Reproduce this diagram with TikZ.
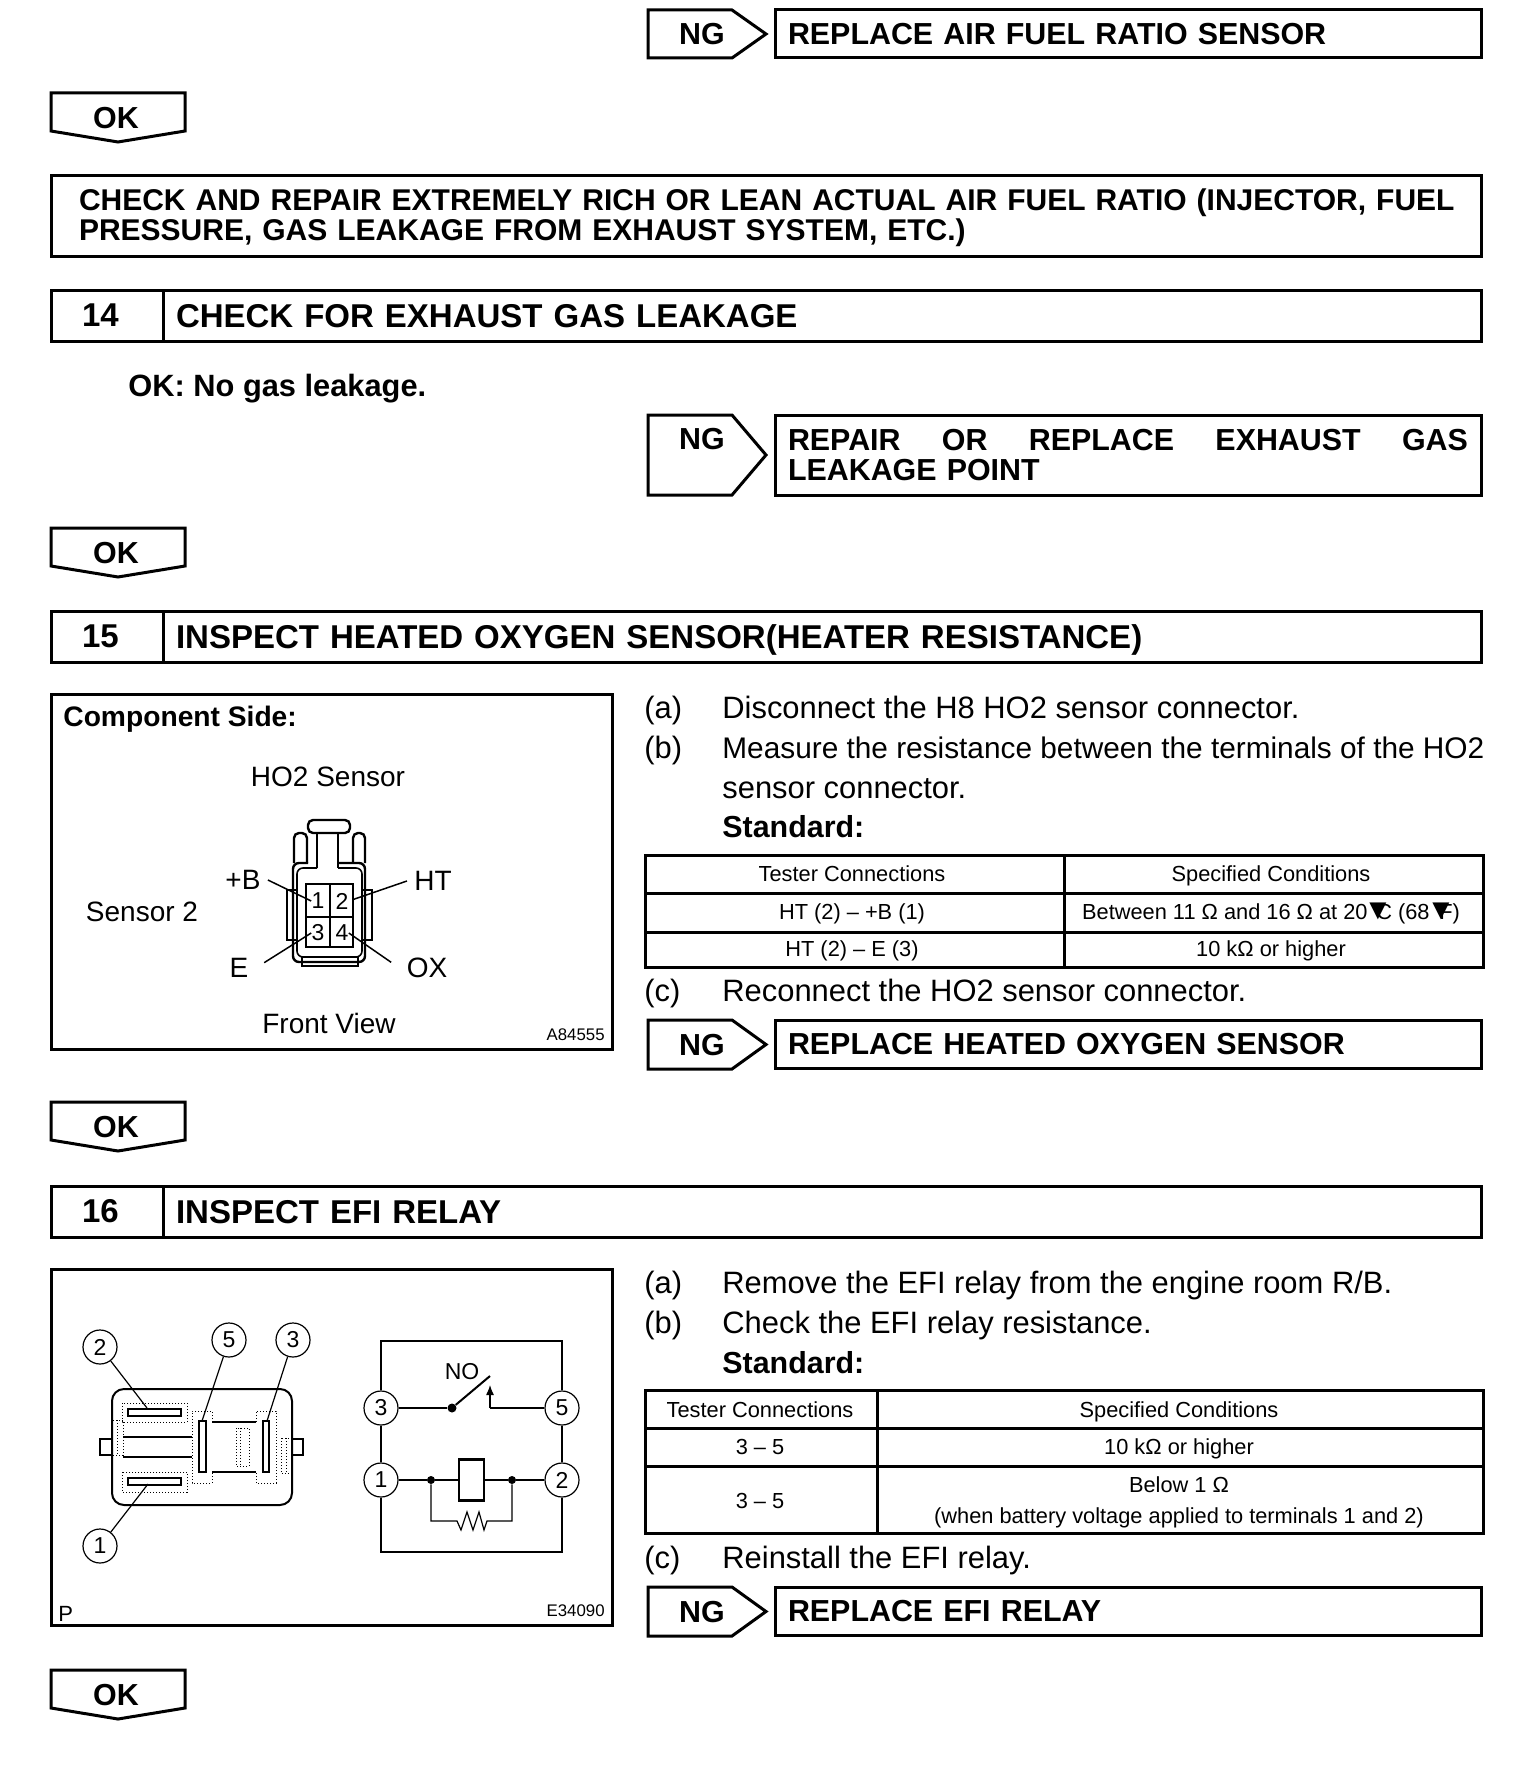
\documentclass[tikz,border=0pt]{standalone}
\usepackage{fontspec}
\setmainfont{Liberation Sans}
\usetikzlibrary{arrows.meta, positioning}

\begin{document}
\begin{tikzpicture}[
  x=0.5pt, y=-0.5pt,
  headfont/.style={font=\fontsize{15.2}{15.2}\selectfont\bfseries},
  titlefont/.style={font=\fontsize{16.5}{17}\selectfont\bfseries},
  bodyfont/.style={font=\fontsize{15.45}{16}\selectfont},
  cellfont/.style={font=\fontsize{10.9}{12}\selectfont},
  numbox/.style={draw, line width=1.5pt, outer sep=0pt, anchor=north west, minimum width=56pt, minimum height=25.5pt, inner xsep=15.5pt, text width=25pt, align=left, titlefont},
  titlebox/.style={draw, line width=1.5pt, outer sep=0pt, minimum width=659pt, minimum height=25.5pt, inner xsep=6.5pt, text width=646pt, align=left, text height=11.8pt, text depth=0pt, titlefont},
  fixbox/.style={draw, line width=1.5pt, outer sep=0pt, anchor=north west, minimum width=353pt, minimum height=24pt, inner xsep=6.5pt, text width=340pt, align=left, headfont},
  flag/.style={draw, line width=1.5pt, line join=miter},
  tag/.style={inner sep=0pt, headfont},
  step text/.style={anchor=base west, inner sep=0pt, bodyfont},
  panel/.style={draw, line width=1.5pt},
  cell/.style={anchor=base, inner sep=0pt, cellfont},
  rule/.style={line width=1.5pt},
  lbl/.style={inner sep=3.5pt, font=\fontsize{14}{15}\selectfont},
  pinno/.style={inner sep=0pt, font=\fontsize{11.5}{12}\selectfont},
  code/.style={anchor=base east, inner sep=0pt, font=\fontsize{8.4}{9}\selectfont},
  lead/.style={line width=0.75pt},
  circ/.style={draw, circle, fill=white, line width=0.6pt, minimum size=17pt, inner sep=0pt, font=\fontsize{11.5}{12}\selectfont},
  fine/.style={line width=0.5pt, densely dotted},
  thin wire/.style={line width=0.6pt},
  dot/.style={circle, fill=black, minimum size=4.5pt, inner sep=0pt}
  ]
\useasboundingbox (0,0) rectangle (1536,1782);

% NG flags
\foreach \y/\h/\b in {10/48/35, 415/80/34, 1020/49/35, 1587/49/35} {
  \draw[flag] (648,\y) -- (732,\y) -- (766,\y+\h/2) -- (732,\y+\h) -- (648,\y+\h) -- cycle;
  \node[tag, anchor=base] (ng\y) at (702,\y+\b) {NG};
}

% OK tags
\foreach \y in {93, 528, 1102, 1670} {
  \draw[flag] (51,\y) -- (185,\y) -- (185,\y+38) -- (118,\y+49) -- (51,\y+38) -- cycle;
  \node[tag, anchor=base] (ok\y) at (116,\y+35) {OK};
}

% Repair boxes
\node[fixbox] (fixa) at (775,10) {REPLACE AIR FUEL RATIO SENSOR};
\node[fixbox, minimum height=40pt] (fixb) at (775,415) {\hbox to 340pt{REPAIR\hfil OR\hfil REPLACE\hfil EXHAUST\hfil GAS}\\LEAKAGE POINT};
\node[fixbox] (fixc) at (775,1020) {REPLACE HEATED OXYGEN SENSOR};
\node[fixbox] (fixd) at (775,1587) {REPLACE EFI RELAY};
\node[fixbox, minimum width=715pt, minimum height=40.5pt, text width=687pt, inner xsep=14pt, text height=13pt, font=\fontsize{15}{15}\selectfont\bfseries] (rich) at (51,175) {\hbox{CHECK AND REPAIR EXTREMELY RICH OR LEAN ACTUAL AIR FUEL RATIO (INJECTOR, FUEL}\\\hbox{PRESSURE, GAS LEAKAGE FROM EXHAUST SYSTEM, ETC.)}};

% Step headers
\node[numbox] (numa) at (51,290) {14};
\node[titlebox, right=0pt of numa] (heada) {CHECK FOR EXHAUST GAS LEAKAGE};
\node[numbox] (numb) at (51,611) {15};
\node[titlebox, right=0pt of numb] (headb) {INSPECT HEATED OXYGEN SENSOR(HEATER RESISTANCE)};
\node[numbox] (numc) at (51,1186) {16};
\node[titlebox, right=0pt of numc] (headc) {INSPECT EFI RELAY};

\node[anchor=base west, inner sep=0pt, font=\fontsize{15.4}{16}\selectfont\bfseries] (spec) at (128,396) {OK: No gas leakage.};

% Steps of 15
\node[step text] (sa) at (644,718) {(a)};
\node[step text] (ta) at (722,718) {Disconnect the H8 HO2 sensor connector.};
\node[step text] (sb) at (644,758) {(b)};
\node[step text, font=\fontsize{14.9}{16}\selectfont] (tb) at (722,758) {Measure the resistance between the terminals of the HO2};
\node[step text] (tbb) at (722,798) {sensor connector.};
\node[step text, font=\fontsize{15.2}{16}\selectfont\bfseries] (std) at (722,837) {Standard:};
\node[step text] (sc) at (644,1001) {(c)};
\node[step text] (tc) at (722,1001) {Reconnect the HO2 sensor connector.};

% Table of 15
\draw[rule] (645,855) rectangle (1483,967);
\draw[rule] (645,893) -- (1483,893);
\draw[rule] (645,932) -- (1483,932);
\draw[rule] (1064,855) -- (1064,967);
\node[cell] (ca) at (852,881) {Tester Connections};
\node[cell] (cb) at (1271,881) {Specified Conditions};
\node[cell] (cc) at (852,919) {HT (2) – +B (1)};
\node[cell] (cd) at (1271,919) {Between 11 Ω and 16 Ω at 20\kern-2pt{\fontsize{14.5}{14.5}\selectfont ▼}\kern-8pt C (68\kern-1.5pt{\fontsize{14.5}{14.5}\selectfont ▼}\kern-8pt F)};
\node[cell] (ce) at (852,956) {HT (2) – E (3)};
\node[cell] (cf) at (1271,956) {10 kΩ or higher};

% Steps of 16
\node[step text] (ra) at (644,1293) {(a)};
\node[step text] (ua) at (722,1293) {Remove the EFI relay from the engine room R/B.};
\node[step text] (rb) at (644,1333) {(b)};
\node[step text] (ub) at (722,1333) {Check the EFI relay resistance.};
\node[step text, font=\fontsize{15.2}{16}\selectfont\bfseries] (stdb) at (722,1373) {Standard:};
\node[step text] (rc) at (644,1568) {(c)};
\node[step text] (uc) at (722,1568) {Reinstall the EFI relay.};

% Table of 16
\draw[rule] (645,1390) rectangle (1483,1533);
\draw[rule] (645,1428) -- (1483,1428);
\draw[rule] (645,1466) -- (1483,1466);
\draw[rule] (877,1390) -- (877,1533);
\node[cell] (da) at (760,1417) {Tester Connections};
\node[cell] (db) at (1179,1417) {Specified Conditions};
\node[cell] (dc) at (760,1454) {3 – 5};
\node[cell] (dd) at (1179,1454) {10 kΩ or higher};
\node[cell] (de) at (760,1508) {3 – 5};
\node[cell] (df) at (1179,1492) {Below 1 Ω};
\node[cell] (dg) at (1179,1523) {(when battery voltage applied to terminals 1 and 2)};

% Connector panel
\draw[panel] (51,694) rectangle (612,1049);
\node[anchor=base west, inner sep=0pt, font=\fontsize{14.1}{15}\selectfont\bfseries] (comp) at (63,726) {Component Side:};
\node[lbl] (ho) at (328,777) {HO2 Sensor};
\node[lbl] (sens) at (142,912) {Sensor 2};
\node[lbl] (front) at (329,1023) {Front View};
\node[lbl] (lbB) at (243,880) {+B};
\node[lbl] (lbHT) at (433,881) {HT};
\node[lbl] (lbE) at (239,968) {E};
\node[lbl] (lbOX) at (427,968) {OX};
\node[code] (aa) at (605,1040) {A84555};

\draw[line width=1.2pt, rounded corners=2.5pt] (308,833) rectangle (350,820);
\draw[line width=1.2pt, rounded corners=2.5pt] (307,863) -- (307,833) -- (294,833) -- (294,863);
\draw[line width=1.2pt, rounded corners=2.5pt] (353,863) -- (353,833) -- (365,833) -- (365,863);
\draw[line width=1.2pt] (317,833) -- (317,868);
\draw[line width=1.2pt] (338,833) -- (338,868);
\draw[line width=1.2pt, rounded corners=3pt] (308,863) -- (293,863) -- (293,962) -- (365,962) -- (365,863) -- (338,863);
\draw[line width=0.8pt, rounded corners=3pt] (317,868) -- (297,868) -- (297,957) -- (362,957) -- (362,868) -- (338,868);
\draw[line width=1pt] (287,890) rectangle (297,940);
\draw[line width=1pt] (362,890) rectangle (372,940);
\draw[line width=1pt] (302,957) rectangle (358,966);
\draw[line width=1.2pt] (306,884) rectangle (353,947);
\draw[line width=0.7pt] (330,884) -- (330,947);
\draw[line width=0.7pt] (306,917) -- (353,917);
\node[pinno] (n1) at (318,901) {1};
\node[pinno] (n2) at (342,901) {2};
\node[pinno] (n3) at (318,933) {3};
\node[pinno] (n4) at (342,933) {4};
\draw[lead] (lbB.east) -- (n1.west);
\draw[lead, shorten >=2pt] (lbHT.west) -- (n2.east);
\draw[lead, shorten <=5pt] (lbE.east) -- (n3.west);
\draw[lead, shorten <=5pt] (lbOX.west) -- (n4.east);

% Relay panel
\draw[panel] (51,1269) rectangle (612,1625);
\node[anchor=base west, inner sep=0pt, font=\fontsize{11}{12}\selectfont] (pp) at (58,1621) {P};
\node[code] (bb) at (605,1616) {E34090};

\draw[line width=1pt, rounded corners=6pt] (112,1389) rectangle (292,1505);
\draw[line width=1pt] (112,1439) -- (100,1439) -- (100,1455) -- (112,1455);
\draw[line width=1pt] (292,1439) -- (303,1439) -- (303,1455) -- (292,1455);
\draw[fine] (112,1420) rectangle (123,1455);
\draw[fine] (117,1420) -- (117,1455);
\draw[fine] (281,1438) rectangle (292,1473);
\draw[fine] (286,1438) -- (286,1473);
\draw[fine] (122,1403) rectangle (187,1422);
\draw[fine] (122,1472) rectangle (187,1492);
\draw[line width=1.2pt] (128,1409) rectangle (181,1416);
\draw[line width=0.7pt] (128,1478) rectangle (181,1485);
\draw[thin wire] (123,1437) -- (192,1437);
\draw[thin wire] (123,1457) -- (192,1457);
\draw[fine] (212,1422) -- (212,1411) -- (192,1411) -- (192,1483) -- (212,1483) -- (212,1472);
\draw[fine] (256,1422) -- (256,1411) -- (276,1411) -- (276,1483) -- (256,1483) -- (256,1472);
\draw[thin wire] (212,1422) -- (256,1422);
\draw[thin wire] (212,1472) -- (256,1472);
\draw[line width=1pt] (199,1421) rectangle (206,1472);
\draw[line width=1pt] (263,1421) rectangle (269,1472);
\draw[fine] (236,1428) rectangle (249,1466);
\draw[fine] (240,1428) -- (240,1466);

\node[circ] (c2) at (100,1347) {2};
\node[circ] (c5) at (229,1340) {5};
\node[circ] (c3) at (293,1340) {3};
\node[circ] (c1) at (100,1546) {1};
\coordinate (end2) at (147,1408);
\coordinate (end5) at (202,1421);
\coordinate (end3) at (267,1421);
\coordinate (end1) at (148,1484);
\draw[thin wire] (c2) -- (end2);
\draw[thin wire] (c5) -- (end5);
\draw[thin wire] (c3) -- (end3);
\draw[thin wire] (c1) -- (end1);

% Relay circuit
\node[circ] (p3) at (381,1408) {3};
\node[circ] (p5) at (562,1408) {5};
\node[circ] (p1) at (381,1480) {1};
\node[circ] (p2) at (562,1480) {2};
\coordinate (tl) at (381,1341);
\coordinate (tr) at (562,1341);
\coordinate (bl) at (381,1552);
\coordinate (br) at (562,1552);
\draw[line width=1pt] (p3) -- (tl) -- (tr) -- (p5);
\draw[line width=1pt] (p1) -- (bl) -- (br) -- (p2);
\draw[line width=1pt] (p3) -- (p1);
\draw[line width=1pt] (p5) -- (p2);
\node[dot] (pivot) at (452,1408) {};
\node[inner sep=0pt, font=\fontsize{11.5}{12}\selectfont] (no) at (462,1372) {NO};
\coordinate (blade) at (490,1376);
\coordinate (cont) at (490,1408);
\coordinate (conttip) at (490,1385);
\draw[thin wire] (p3) -- (pivot);
\draw[line width=1pt] (pivot) -- (blade);
\draw[thin wire] (p5) -- (cont);
\draw[thin wire, -{Latex[length=5pt,width=4pt]}] (cont) -- (conttip);
\node[draw, line width=1.2pt, minimum width=12.5pt, minimum height=20.5pt, inner sep=0pt, outer sep=0pt] (coil) at (471.5,1480) {};
\node[dot, minimum size=4pt] (da1) at (431,1480) {};
\node[dot, minimum size=4pt] (da2) at (512,1480) {};
\draw[thin wire] (p1) -- (da1) -- (coil);
\draw[thin wire] (p2) -- (da2) -- (coil);
\draw[thin wire] (da1) -- (431,1521) -- (457,1521) -- (461,1530) -- (467,1512) -- (473,1530) -- (479,1512) -- (484,1530) -- (487,1521) -- (512,1521) -- (da2);

\end{tikzpicture}
\end{document}
